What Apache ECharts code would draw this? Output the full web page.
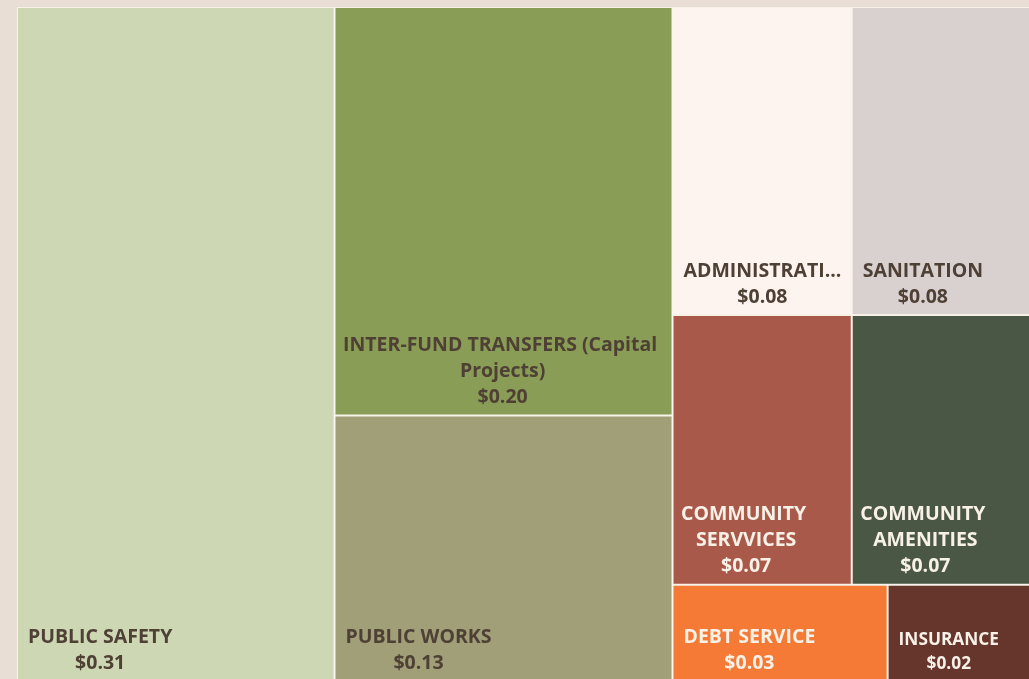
<!DOCTYPE html>
<html>
<head>
<meta charset="utf-8">
<title>Treemap</title>
<script src="https://cdn.jsdelivr.net/npm/echarts@6/dist/echarts.min.js"></script>
<style>
  html, body { margin: 0; padding: 0; background: #e8ded6; }
  #chart { width: 1029px; height: 679px; }
</style>
</head>
<body>
<div id="chart"></div>
<script>
  // 分类与数值
  const categories = ['PUBLIC SAFETY', 'INTER-FUND TRANSFERS (Capital Projects)', 'PUBLIC WORKS', 'ADMINISTRATION', 'SANITATION', 'COMMUNITY SERVVICES', 'COMMUNITY AMENITIES', 'DEBT SERVICE', 'INSURANCE']
  const values = [0.31, 0.20, 0.13, 0.08, 0.08, 0.07, 0.07, 0.03, 0.02]
  // columns and rows of the treemap, as indexes into categories
  const groups = [[0], [1, 2], [[3, 4], [5, 6], [7, 8]]]

  // 颜色
  const colors = ['#cdd7b3', '#8a9d56', '#a09f78', '#fdf4ef', '#d9d0d0', '#a9594a', '#4b5745', '#f47a36', '#66352c']
  const lightLabels = [5, 6, 7, 8]
  const smallLabels = [8]
  const darkText = '#4f4035'
  const lightText = '#f8f1e7'
  const lineColor = '#f6f2e6'

  const fontSize = 19.5
  const smallFontSize = 17.3
  const labelPad = 5    // room kept free on each side when wrapping / cutting text
  const inset = 10      // where the text block starts inside a cell
  const padBottom = 4

  // text measuring, used to centre the label lines on each other
  const ctx = document.createElement('canvas').getContext('2d')
  const textW = s => ctx.measureText(s).width
  function cutWidth(word, maxW){
    let s = word
    while(s.length > 1 && textW(s + '...') > maxW - 1){
      s = s.slice(0, -1)
    }
    return textW(s + '...')
  }
  function blockWidth(text, maxW, size){
    ctx.font = 'bold ' + size + 'px "Open Sans"'
    let widest = 0
    text.split('\n').forEach(line => {
      if(textW(line) > maxW && !line.includes(' ')){
        widest = Math.max(widest, cutWidth(line, maxW))
        return
      }
      let cur = ''
      line.split(' ').forEach(word => {
        const next = cur ? cur + ' ' + word : word
        if(cur && textW(next) > maxW){
          widest = Math.max(widest, textW(cur))
          cur = word
        }
        else{
          cur = next
        }
      })
      widest = Math.max(widest, textW(cur))
    })
    return Math.min(widest, maxW)
  }

  function buildNode(g){
    if(Array.isArray(g)){
      return { name: '', children: g.map(buildNode) }
    }
    const node = {
      name: categories[g],
      value: values[g],
      itemStyle: {
        color: colors[g],
        borderWidth: 1,
        borderColor: lineColor
      },
      label: {
        color: lightLabels.includes(g) ? lightText : darkText
      }
    }
    if(smallLabels.includes(g)){
      node.label.fontSize = smallFontSize
      node.label.lineHeight = 24
    }
    // single long word: cut off like the original
    if(!categories[g].includes(' ')){
      node.label.overflow = 'truncate'
    }
    return node
  }
  const treeData = groups.map(buildNode)

  const chart = echarts.init(document.getElementById('chart'))
  const option = {
    animation: false,
    backgroundColor: '#e8ded6',
    series: [
      {
        type: 'treemap',
        left: 17,
        top: 7,
        width: 1014,
        height: 674,
        roam: false,
        nodeClick: false,
        breadcrumb: { show: false },
        sort: false,
        squareRatio: 0.8,
        label: {
          show: true,
          position: 'insideBottomLeft',
          distance: 0,
          padding: [0, labelPad, 0, labelPad],
          fontFamily: 'Open Sans',
          fontWeight: 'bold',
          fontSize: fontSize,
          lineHeight: 26,
          overflow: 'break',
          formatter: p => p.name + '\n$' + p.value.toFixed(2)
        },
        labelLayout: params => {
          const r = params.rect
          const w = r.width - 2 * labelPad
          const idx = categories.findIndex(c => params.text.startsWith(c + '\n'))
          const size = smallLabels.includes(idx) ? smallFontSize : fontSize
          return {
            x: r.x + inset + blockWidth(params.text, w, size) / 2,
            y: r.y + r.height - padBottom,
            align: 'center',
            verticalAlign: 'bottom'
          }
        },
        data: treeData
      }
    ]
  }
  chart.setOption(option)
</script>
</body>
</html>
